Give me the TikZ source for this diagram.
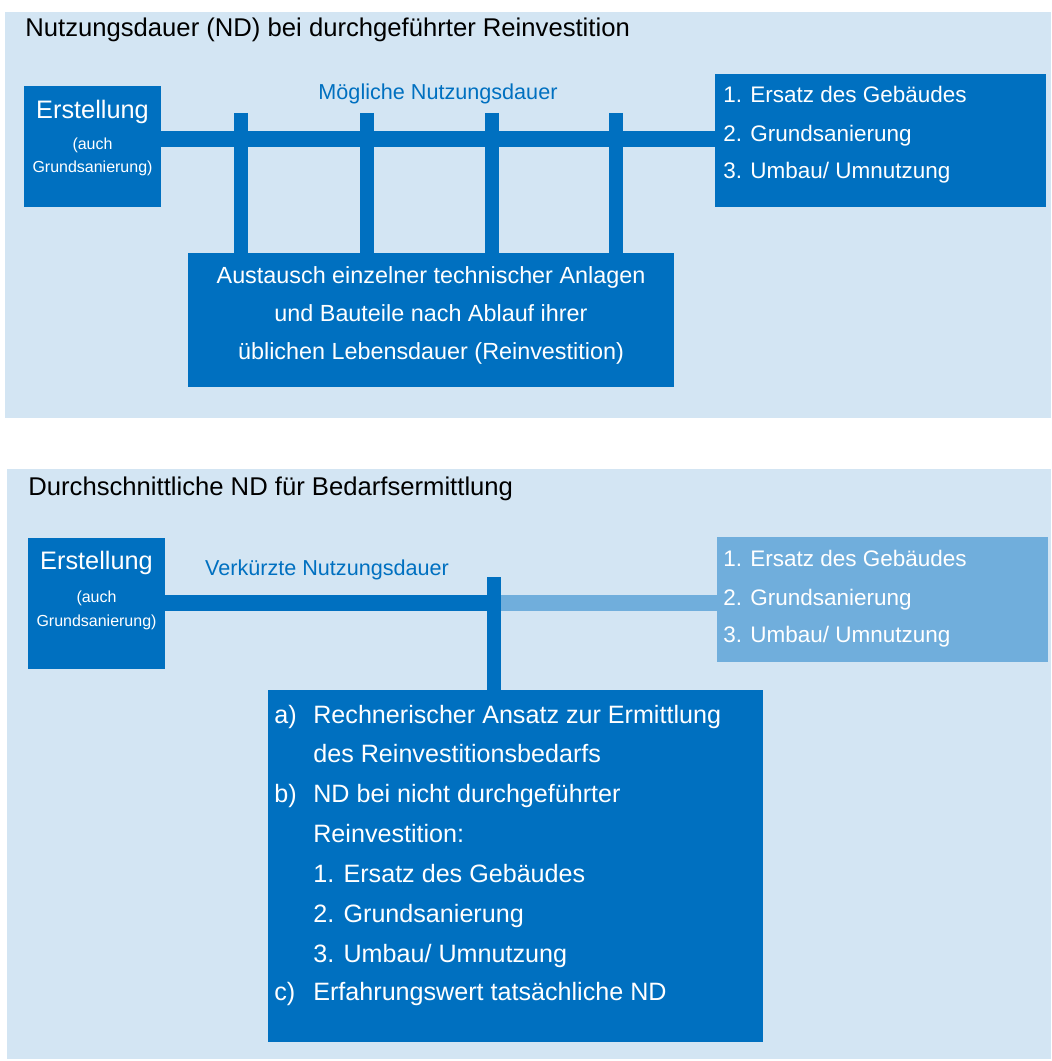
\documentclass[tikz,border=0pt]{standalone}
\usepackage{fontspec}
\setmainfont{Liberation Sans}
\usepackage{tikz}
\usetikzlibrary{calc}

\definecolor{flaeche}{HTML}{D3E5F3}
\definecolor{dunkelblau}{HTML}{0070C0}
\definecolor{hellblau}{HTML}{70AEDC}

\begin{document}
\begin{tikzpicture}[x=0.02cm, y=-0.02cm,
        box/.style={rectangle, inner sep=0pt, draw=none, fill=dunkelblau},
        hellbox/.style={box, fill=hellblau},
        balken/.style={line width=0.32cm, dunkelblau},
        stab/.style={line width=0.28cm, dunkelblau},
        weiss/.style={text=white, inner sep=0pt, font=\fontsize{13.3}{16}\selectfont},
        liste/.style={weiss, anchor=base west, font=\fontsize{12.8}{15}\selectfont},
        titel/.style={inner sep=0pt, anchor=base west, font=\fontsize{14.6}{17}\selectfont},
        dauer/.style={inner sep=0pt, anchor=base, text=dunkelblau, font=\fontsize{12.3}{15}\selectfont},
        gross/.style={weiss, anchor=base, font=\fontsize{14.4}{17}\selectfont},
        klein/.style={weiss, anchor=base, font=\fontsize{9.1}{11}\selectfont}]
        \useasboundingbox (0,0) rectangle (1051,1061);

        % Background panels
        \fill[flaeche] (5,12) rectangle (1051,418);
        \fill[flaeche] (7,469) rectangle (1051,1059);

        % Upper panel: boxes
        \node[box, minimum width=2.74cm, minimum height=2.42cm] (erst1) at (92.5,146.5) {};
        \node[box, minimum width=9.72cm, minimum height=2.68cm] (aust) at (431,320) {};
        \node[box, minimum width=6.62cm, minimum height=2.66cm] (ziel1) at (880.5,140.5) {};

        % Upper panel: bars
        \coordinate (h1) at (0,139);
        \draw[balken] (erst1.east |- h1) -- (ziel1.west |- h1);
        \foreach \x [count=\i] in {241,367,492,616} {
            \coordinate (s\i) at (\x,113);
            \draw[stab] (s\i) -- (s\i |- aust.north);
        }

        % Upper panel: texts
        \node[titel] (titel1) at (25,37) {Nutzungsdauer (ND) bei durchgeführter Reinvestition};
        \node[dauer] (dauer1) at (438,100) {Mögliche Nutzungsdauer};
        \node[gross] (erst1a) at (92.5,118) {Erstellung};
        \node[klein] (erst1b) at (92.5,150) {(auch};
        \node[klein] (erst1c) at (92.5,173) {Grundsanierung)};
        \node[weiss, anchor=base] (aust1) at (431,283) {Austausch einzelner technischer Anlagen};
        \node[weiss, anchor=base] (aust2) at (431,321) {und Bauteile nach Ablauf ihrer};
        \node[weiss, anchor=base] (aust3) at (431,359) {üblichen Lebensdauer (Reinvestition)};
        \node[liste] (ziel1a) at (723,103) {1. Ersatz des Gebäudes};
        \node[liste] (ziel1b) at (723,141) {2. Grundsanierung};
        \node[liste] (ziel1c) at (723,178) {3. Umbau/ Umnutzung};

        % Lower panel: boxes
        \node[box, minimum width=2.74cm, minimum height=2.62cm] (erst2) at (96.5,603.5) {};
        \node[hellbox, minimum width=6.62cm, minimum height=2.5cm] (ziel2) at (882.5,599.5) {};
        \node[box, minimum width=9.9cm, minimum height=7.04cm] (ansatz) at (515.5,866) {};

        % Lower panel: bars
        \coordinate (h2) at (0,603);
        \coordinate (s5) at (493.5,577);
        \draw[balken, hellblau] (s5 |- h2) -- (ziel2.west |- h2);
        \draw[balken] (erst2.east |- h2) -- (s5 |- h2);
        \draw[stab] (s5) -- (s5 |- ansatz.north);

        % Lower panel: texts
        \node[titel] (titel2) at (28,495) {Durchschnittliche ND für Bedarfsermittlung};
        \node[dauer] (dauer2) at (327,575) {Verkürzte Nutzungsdauer};
        \node[gross] (erst2a) at (96.5,569) {Erstellung};
        \node[klein] (erst2b) at (96.5,602) {(auch};
        \node[klein] (erst2c) at (96.5,626) {Grundsanierung)};
        \node[liste] (ziel2a) at (723,566) {1. Ersatz des Gebäudes};
        \node[liste] (ziel2b) at (723,605) {2. Grundsanierung};
        \node[liste] (ziel2c) at (723,642) {3. Umbau/ Umnutzung};

        \begin{scope}[every node/.style={weiss, anchor=base west, font=\fontsize{14.3}{17}\selectfont}]
            \node (a1) at (274,723) {a)};
            \node (a2) at (313,723) {Rechnerischer Ansatz zur Ermittlung};
            \node (a3) at (313,762) {des Reinvestitionsbedarfs};
            \node (b1) at (274,802) {b)};
            \node (b2) at (313,802) {ND bei nicht durchgeführter};
            \node (b3) at (313,842) {Reinvestition:};
            \node (b4) at (313,882) {1. Ersatz des Gebäudes};
            \node (b5) at (313,922) {2. Grundsanierung};
            \node (b6) at (313,962) {3. Umbau/ Umnutzung};
            \node (c1) at (274,1000) {c)};
            \node (c2) at (313,1000) {Erfahrungswert tatsächliche ND};
        \end{scope}
\end{tikzpicture}
\end{document}
